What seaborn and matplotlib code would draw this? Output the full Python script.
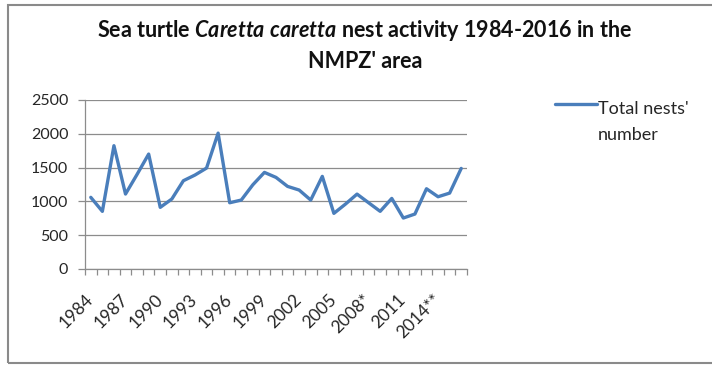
import matplotlib
matplotlib.use("Agg")
import matplotlib.pyplot as plt
from matplotlib.patches import Rectangle
from matplotlib.transforms import ScaledTranslation
import seaborn as sns
import pandas as pd

# Nest counts per season, 1984-2016
years = list(range(1984, 2017))
year_labels = [str(y) for y in years]
year_labels[years.index(2008)] = "2008*"
year_labels[years.index(2014)] = "2014**"
nests = [1060, 853, 1824, 1109, 1400, 1700, 912, 1035, 1306, 1390, 1493,
         2010, 980, 1020, 1246, 1429, 1355, 1222, 1168, 1020, 1370, 823,
         960, 1108, 980, 853, 1044, 754, 813, 1187, 1069, 1123, 1488]
y_ticks = [0, 500, 1000, 1500, 2000, 2500]
series_name = "Total nests'\nnumber"

sns.set_theme(style="white")
plt.rcParams["font.family"] = ["Lato", "DejaVu Sans"]
plt.rcParams["mathtext.fontset"] = "custom"
plt.rcParams["mathtext.rm"] = "Lato:bold"
plt.rcParams["mathtext.it"] = "Lato:bold:italic"

df = pd.DataFrame({"idx": range(len(years)), "nests": nests})

W, H = 712, 365
fig = plt.figure(figsize=(W / 100, H / 100), dpi=100)
ax = fig.add_axes([85 / W, 1 - 269 / H, (467 - 85) / W, (269 - 100) / H])

line_c = "#4A7EBB"
sns.lineplot(data=df, x="idx", y="nests", ax=ax, color=line_c,
             linewidth=2.4, label=series_name, legend=False)

grid_c = "#8c8c8c"
text_c = "#262626"
ax.set_ylim(0, 2500)
ax.set_yticks(y_ticks)
ax.set_yticklabels([str(v) for v in y_ticks], fontsize=11.5, color=text_c)
ax.yaxis.grid(True, color=grid_c, linewidth=0.9)
ax.set_axisbelow(True)

n = len(years)
ax.set_xlim(-0.5, n - 0.5)
ax.set_xticks([i - 0.5 for i in range(n + 1)])
ax.set_xticklabels([])
ax.set_xticks(list(range(0, n, 3)), minor=True)
ax.set_xticklabels([year_labels[i] for i in range(0, n, 3)], minor=True,
                   rotation=45, ha="right", va="center",
                   rotation_mode="anchor", fontsize=12.5, color=text_c)
shift = ScaledTranslation(4 / 100, 0, fig.dpi_scale_trans)
for lab in ax.get_xticklabels(minor=True):
    lab.set_transform(lab.get_transform() + shift)
ax.tick_params(axis="x", which="major", direction="out", length=4,
               color=grid_c, width=0.9, bottom=True)
ax.tick_params(axis="x", which="minor", length=0, pad=20, bottom=True)
ax.tick_params(axis="y", direction="out", length=5, color=grid_c,
               width=0.9, left=True, pad=7)
ax.set_xlabel("")
ax.set_ylabel("")

for s in ["top", "right"]:
    ax.spines[s].set_visible(False)
for s in ["left", "bottom"]:
    ax.spines[s].set_color(grid_c)
    ax.spines[s].set_linewidth(0.9)

# Legend on the right
fig.add_artist(plt.Line2D([555 / W, 597 / W], [1 - 104 / H, 1 - 104 / H],
                          color=line_c, linewidth=2.4,
                          transform=fig.transFigure))
for k, part in enumerate(series_name.split("\n")):
    fig.text(598 / W, 1 - (114 + 26 * k) / H, part, fontsize=13,
             color=text_c, ha="left", va="baseline")

# Title, with the species name in italics
fig.text(365 / W, 1 - 36.7 / H,
         r"Sea turtle $\mathit{Caretta\ caretta}$ nest activity 1984-2016 in the",
         fontsize=15.5, fontweight="bold", ha="center", va="baseline",
         color="#111111")
fig.text(365 / W, 1 - 68.3 / H, "NMPZ' area", fontsize=15.5,
         fontweight="bold", ha="center", va="baseline", color="#111111")

# Chart frame
fig.add_artist(Rectangle((8 / W, 1 - 363 / H), 1.0, (363 - 5) / H,
                         transform=fig.transFigure, fill=False,
                         edgecolor="#8a8a8a", linewidth=1.5))

fig.savefig("out.png", dpi=100)
